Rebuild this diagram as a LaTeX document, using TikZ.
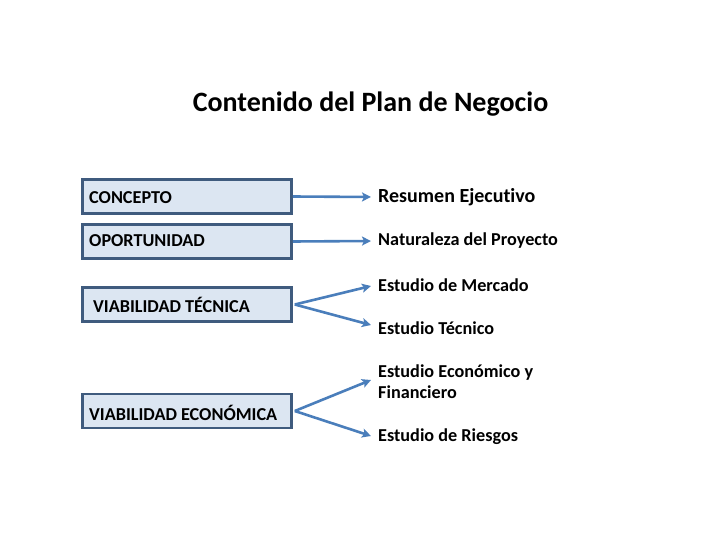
\documentclass[tikz,border=0pt]{standalone}
\usepackage{fontspec}
\setmainfont{Carlito}[Ligatures={NoCommon}]
\usetikzlibrary{arrows.meta}
\definecolor{boxfill}{HTML}{DCE6F2}
\definecolor{boxline}{HTML}{3F5B7E}
\definecolor{arr}{HTML}{4A7EBB}
\tikzset{
  box/.style={draw=boxline, line width=2.6pt, fill=boxfill, minimum width=209pt, minimum height=34pt, inner sep=0pt},
  lbl/.style={anchor=west, inner sep=0pt, font=\fontsize{18.2}{21}\selectfont\bfseries},
  conn/.style={draw=arr, line width=2.6pt, -{Stealth[length=9pt,width=9pt,inset=2pt]}},
}
\begin{document}
\begin{tikzpicture}[x=1pt,y=-1pt]
\useasboundingbox (0,0) rectangle (720,540);
\node[anchor=center, inner sep=0pt, font=\fontsize{28}{32}\selectfont\bfseries] (title) at (370.5,104) {Contenido del Plan de Negocio};

\node[box] (b1) at (187,196.5) {};
\node[box] (b2) at (187,241.5) {};
\node[box] (b3) at (187,304.5) {};
\node[box] (b4) at (187,411) {};

\node[lbl] (t1) at (89,198) {CONCEPTO};
\node[lbl] (t2) at (89,241) {OPORTUNIDAD};
\node[lbl] (t3) at (93,305) {VIABILIDAD TÉCNICA};
\node[lbl] (t4) at (89,413) {VIABILIDAD ECONÓMICA};

\node[lbl, font=\fontsize{20}{24}\selectfont\bfseries] (r1) at (378,197) {Resumen Ejecutivo};
\node[lbl] (r2) at (378,241) {Naturaleza del Proyecto};
\node[lbl] (r3) at (378,285) {Estudio de Mercado};
\node[lbl] (r4) at (378,328) {Estudio Técnico};
\node[lbl, align=left] (r5) at (378,382) {Estudio Económico y\\Financiero};
\node[lbl] (r6) at (378,437) {Estudio de Riesgos};

\coordinate (e1) at (371,197);
\coordinate (e2) at (371,241);
\coordinate (e3) at (371,286);
\coordinate (e4) at (371,325);
\coordinate (e5) at (371,380);
\coordinate (e6) at (371,436);

\draw[conn] (b1.east) -- (e1);
\draw[conn] (b2.east) -- (e2);
\draw[conn] ([xshift=2pt]b3.east) -- (e3);
\draw[conn] ([xshift=2pt]b3.east) -- (e4);
\draw[conn] ([xshift=2pt]b4.east) -- (e5);
\draw[conn] ([xshift=2pt]b4.east) -- (e6);
\end{tikzpicture}
\end{document}
